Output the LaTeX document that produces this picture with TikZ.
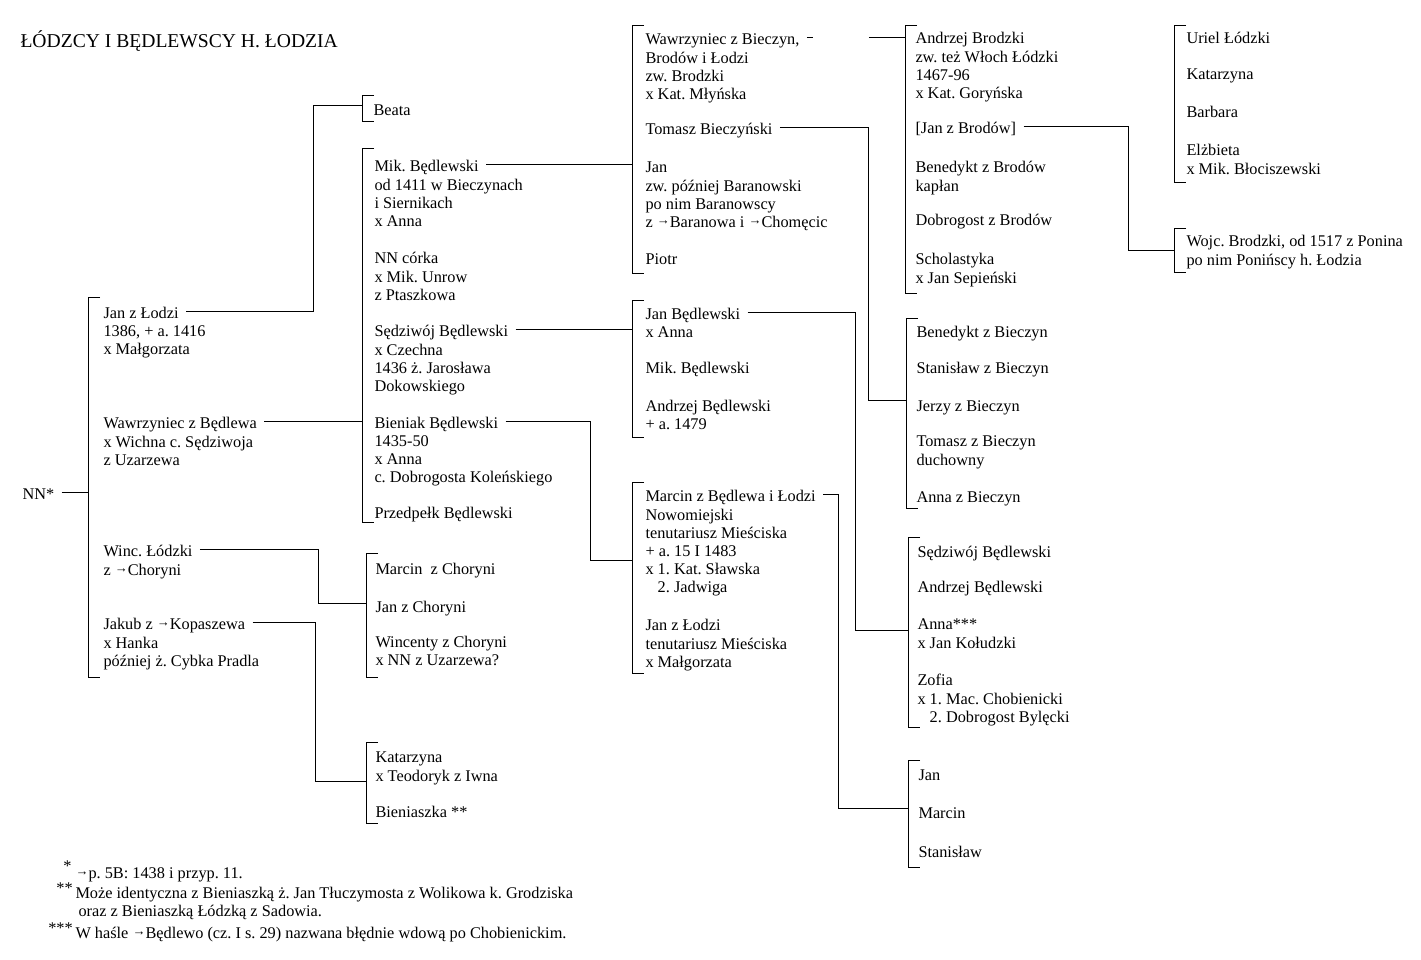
\documentclass[tikz,border=0pt]{standalone}
\usepackage{fontspec}
\setmainfont{Liberation Serif}
\usetikzlibrary{positioning}
\newcommand{\refarrow}{{\fontsize{13}{13}\selectfont\raisebox{2.5pt}{→}}}
\frenchspacing
\begin{document}
\begin{tikzpicture}[x=1pt,y=-1pt,line width=1pt,
				font=\fontsize{16.3}{18}\selectfont,
				pers node/.style = {anchor=base west, inner sep=0pt, text height=16pt, text depth=2pt},
				info node/.style = {anchor=north west, inner sep=0pt, align=left},
				note node/.style = {anchor=base west, inner sep=0pt},
				link/.style = {shorten <=7pt}]
				
				\path[fill=white] (0,0) rectangle (1421,959);
				\node[note node,font=\fontsize{19.6}{22}\selectfont] (title) at (20,47) {ŁÓDZCY I BĘDLEWSCY H. ŁODZIA};
				
				% brackets: x / top / bottom
				\foreach \x/\a/\b in {88/297/677, 362/95/121, 362/148/522, 366/553/677, 366/742/823,
					632/25/273, 632/300/437, 632/482/673, 905/25/293, 906/318/508, 908/537/727,
					908/760/867, 1174/25/182, 1174/228/272}
				\draw (\x+12,\a) -- (\x,\a) -- (\x,\b) -- (\x+12,\b);
				
				\coordinate (b1) at (88,492);
				\coordinate (bbeata) at (362,105);
				\coordinate (b2) at (362,421);
				\coordinate (b3) at (366,603);
				\coordinate (b4) at (366,781);
				\coordinate (b5) at (632,164);
				\coordinate (b6) at (632,329);
				\coordinate (b7) at (632,560);
				\coordinate (b8) at (905,37);
				\coordinate (b9) at (906,400);
				\coordinate (b10) at (908,630);
				\coordinate (b11) at (908,808);
				\coordinate (b13) at (1174,250);
				
				\node[pers node] (nn) at (22,499) {NN*};
				
				\node[pers node] (jan) at (103,318) {Jan z Łodzi};
				\node[below=5pt of jan.south west,info node] (jan-d) {1386, + a. 1416\\x Małgorzata};
				\node[pers node] (waw) at (103,428) {Wawrzyniec z Będlewa};
				\node[below=5pt of waw.south west,info node] (waw-d) {x Wichna c. Sędziwoja\\z Uzarzewa};
				\node[pers node] (winc) at (103,556) {Winc. Łódzki};
				\node[below=5pt of winc.south west,info node] (winc-d) {z \refarrow Choryni};
				\node[pers node] (jakub) at (103,629) {Jakub z \refarrow Kopaszewa};
				\node[below=5pt of jakub.south west,info node] (jakub-d) {x Hanka\\później ż. Cybka Pradla};
				
				\node[pers node] (beata) at (373,115) {Beata};
				\node[pers node] (mik) at (374,171) {Mik. Będlewski};
				\node[below=5pt of mik.south west,info node] (mik-d) {od 1411 w Bieczynach\\i Siernikach\\x Anna};
				\node[pers node] (nnc) at (374,263) {NN córka};
				\node[below=5pt of nnc.south west,info node] (nnc-d) {x Mik. Unrow\\z Ptaszkowa};
				\node[pers node] (sedz) at (374,336) {Sędziwój Będlewski};
				\node[below=5pt of sedz.south west,info node] (sedz-d) {x Czechna\\1436 ż. Jarosława\\Dokowskiego};
				\node[pers node] (bien) at (374,428) {Bieniak Będlewski};
				\node[below=5pt of bien.south west,info node] (bien-d) {1435-50\\x Anna\\c. Dobrogosta Koleńskiego};
				\node[pers node] (przed) at (374,518) {Przedpełk Będlewski};
				\node[pers node] (marc) at (375,574) {Marcin\ \ z Choryni};
				\node[pers node] (janc) at (375,612) {Jan z Choryni};
				\node[pers node] (wincc) at (375,647) {Wincenty z Choryni};
				\node[below=5pt of wincc.south west,info node] (wincc-d) {x NN z Uzarzewa?};
				\node[pers node] (kat) at (375,762) {Katarzyna};
				\node[below=5pt of kat.south west,info node] (kat-d) {x Teodoryk z Iwna};
				\node[pers node] (bienka) at (375,817) {Bieniaszka **};
				
				\node[pers node] (wawb) at (645,44) {Wawrzyniec z Bieczyn,};
				\node[below=5pt of wawb.south west,info node] (wawb-d) {Brodów i Łodzi\\zw. Brodzki\\x Kat. Młyńska};
				\node[pers node] (tom) at (645,134) {Tomasz Bieczyński};
				\node[pers node] (janb) at (645,172) {Jan};
				\node[below=5pt of janb.south west,info node] (janb-d) {zw. później Baranowski\\po nim Baranowscy\\z \refarrow Baranowa i \refarrow Chomęcic};
				\node[pers node] (piotr) at (645,264) {Piotr};
				\node[pers node] (janbe) at (645,319) {Jan Będlewski};
				\node[below=5pt of janbe.south west,info node] (janbe-d) {x Anna};
				\node[pers node] (mikb) at (645,373) {Mik. Będlewski};
				\node[pers node] (andb) at (645,411) {Andrzej Będlewski};
				\node[below=5pt of andb.south west,info node] (andb-d) {+ a. 1479};
				\node[pers node] (marb) at (645,501) {Marcin z Będlewa i Łodzi};
				\node[below=5pt of marb.south west,info node] (marb-d) {Nowomiejski\\tenutariusz Mieściska\\+ a. 15 I 1483\\x 1. Kat. Sławska\\\phantom{x} 2. Jadwiga};
				\node[pers node] (janl) at (645,630) {Jan z Łodzi};
				\node[below=5pt of janl.south west,info node] (janl-d) {tenutariusz Mieściska\\x Małgorzata};
				
				\node[pers node] (andr) at (915,43) {Andrzej Brodzki};
				\node[below=5pt of andr.south west,info node] (andr-d) {zw. też Włoch Łódzki\\1467-96\\x Kat. Goryńska};
				\node[pers node] (janbr) at (915,133) {[Jan z Brodów]};
				\node[pers node] (bened) at (915,172) {Benedykt z Brodów};
				\node[below=5pt of bened.south west,info node] (bened-d) {kapłan};
				\node[pers node] (dobr) at (915,225) {Dobrogost z Brodów};
				\node[pers node] (schol) at (915,264) {Scholastyka};
				\node[below=5pt of schol.south west,info node] (schol-d) {x Jan Sepieński};
				\node[pers node] (benb) at (916,337) {Benedykt z Bieczyn};
				\node[pers node] (stb) at (916,373) {Stanisław z Bieczyn};
				\node[pers node] (jerzy) at (916,411) {Jerzy z Bieczyn};
				\node[pers node] (tomb) at (916,446) {Tomasz z Bieczyn};
				\node[below=5pt of tomb.south west,info node] (tomb-d) {duchowny};
				\node[pers node] (annab) at (916,502) {Anna z Bieczyn};
				\node[pers node] (sedzb) at (917,557) {Sędziwój Będlewski};
				\node[pers node] (andb2) at (917,592) {Andrzej Będlewski};
				\node[pers node] (anna) at (917,629) {Anna***};
				\node[below=5pt of anna.south west,info node] (anna-d) {x Jan Kołudzki};
				\node[pers node] (zofia) at (917,685) {Zofia};
				\node[below=5pt of zofia.south west,info node] (zofia-d) {x 1. Mac. Chobienicki\\\phantom{x} 2. Dobrogost Bylęcki};
				\node[pers node] (janm) at (918,780) {Jan};
				\node[pers node] (marm) at (918,818) {Marcin};
				\node[pers node] (stm) at (918,857) {Stanisław};
				
				\node[pers node] (uriel) at (1186,43) {Uriel Łódzki};
				\node[pers node] (katu) at (1186,79) {Katarzyna};
				\node[pers node] (barb) at (1186,117) {Barbara};
				\node[pers node] (elz) at (1186,155) {Elżbieta};
				\node[below=5pt of elz.south west,info node] (elz-d) {x Mik. Błociszewski};
				\node[pers node] (wojc) at (1186,246) {Wojc. Brodzki, od 1517 z Ponina};
				\node[below=5pt of wojc.south west,info node] (wojc-d) {po nim Ponińscy h. Łodzia};
				
				% connectors
				\draw[link] (nn.east) -| (b1);
				\draw[link] (jan.east) -| (313,105) -- (bbeata);
				\draw[link] (waw.east) -| (b2);
				\draw[link] (winc.east) -| (318,603) -- (b3);
				\draw[link] (jakub.east) -| (315,781) -- (b4);
				\draw[link] (mik.east) -| (b5);
				\draw[link] (sedz.east) -| (b6);
				\draw[link] (bien.east) -| (590,560) -- (b7);
				\draw[link,dash pattern=on 6pt off 56pt on 40pt] (wawb.east) -| (b8);
				\draw[link] (tom.east) -| (868,400) -- (b9);
				\draw[link] (janbe.east) -| (855,630) -- (b10);
				\draw[link] (marb.east) -| (838,808) -- (b11);
				\draw[link] (janbr.east) -| (1128,250) -- (b13);
				
				\node[note node] (n1) at (75,878) {\llap{\raisebox{7pt}{*}\ }\refarrow p. 5B: 1438 i przyp. 11.};
				\node[note node] (n2) at (75,898) {\llap{\raisebox{5pt}{**}\,}Może identyczna z Bieniaszką ż. Jan Tłuczymosta z Wolikowa k. Grodziska};
				\node[note node] (n3) at (78,916) {oraz z Bieniaszką Łódzką z Sadowia.};
				\node[note node] (n4) at (75,938) {\llap{\raisebox{5pt}{***}\,}W haśle \refarrow Będlewo (cz. I s. 29) nazwana błędnie wdową po Chobienickim.};
				\end{tikzpicture}
\end{document}
